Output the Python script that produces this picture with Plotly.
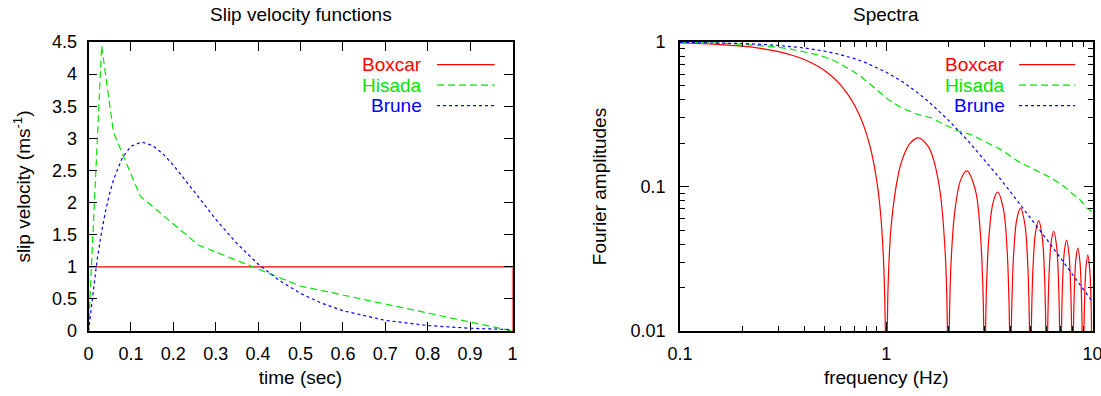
import plotly.graph_objects as go

# ---- slip velocity functions (time in s, velocity in m/s) ----
boxcar_t = [0.0, 0.0, 1.0, 1.0]
boxcar_v = [0.0, 1.0, 1.0, 0.0]

hisada_t = [0.0, 0.031, 0.059, 0.122, 0.259, 0.5, 1.0]
hisada_v = [0.0, 4.44, 3.09, 2.10, 1.34, 0.70, 0.0]

brune_t = [0.0, 0.01, 0.02, 0.03, 0.04, 0.05, 0.06, 0.08, 0.10, 0.125, 0.15, 0.175,
           0.2, 0.25, 0.3, 0.35, 0.4, 0.45, 0.5, 0.55, 0.6, 0.7, 0.8, 0.9, 1.0]
brune_v = [0.0, 0.591, 1.091, 1.510, 1.859, 2.145, 2.376, 2.700, 2.876, 2.943, 2.892, 2.762,
           2.584, 2.165, 1.741, 1.362, 1.043, 0.787, 0.586, 0.432, 0.316, 0.166, 0.085, 0.043, 0.021]

# ---- Fourier amplitude spectra (frequency in Hz) ----
# the spectral zeros are stored as 0.001, which lies below the plotted range
boxcar_f = [0.1, 0.15, 0.2, 0.25, 0.3, 0.35, 0.4, 0.45, 0.5, 0.55, 0.6, 0.65, 0.7, 0.75,
            0.8, 0.85, 0.9, 0.94, 0.97, 0.99, 1.0,
            1.02, 1.06, 1.15, 1.2, 1.3, 1.43, 1.6, 1.7, 1.8, 1.85, 1.94, 1.98, 2.0,
            2.02, 2.06, 2.15, 2.3, 2.46, 2.7, 2.85, 2.94, 2.98, 3.0,
            3.02, 3.06, 3.15, 3.3, 3.47, 3.7, 3.85, 3.94, 3.98, 4.0,
            4.02, 4.06, 4.15, 4.3, 4.48, 4.7, 4.85, 4.94, 4.98, 5.0,
            5.02, 5.06, 5.15, 5.3, 5.48, 5.7, 5.85, 5.94, 5.98, 6.0,
            6.02, 6.06, 6.15, 6.3, 6.48, 6.7, 6.85, 6.94, 6.98, 7.0,
            7.02, 7.06, 7.15, 7.3, 7.49, 7.7, 7.85, 7.94, 7.98, 8.0,
            8.02, 8.06, 8.15, 8.3, 8.49, 8.7, 8.85, 8.94, 8.98, 9.0,
            9.02, 9.06, 9.15, 9.3, 9.49, 9.7, 9.85, 9.94, 9.98, 10.0]
boxcar_a = [0.984, 0.963, 0.936, 0.900, 0.858, 0.810, 0.757, 0.699, 0.637, 0.572, 0.505, 0.436, 0.368, 0.300,
            0.234, 0.170, 0.109, 0.0635, 0.0309, 0.0101, 0.001,
            0.0196, 0.0563, 0.1257, 0.156, 0.1981, 0.2172, 0.189, 0.1515, 0.104, 0.0781, 0.0307, 0.0101, 0.001,
            0.0099, 0.0290, 0.0672, 0.1120, 0.1284, 0.0954, 0.0507, 0.0203, 0.0067, 0.001,
            0.0066, 0.0195, 0.0459, 0.0780, 0.0913, 0.0696, 0.0375, 0.0151, 0.0050, 0.001,
            0.0050, 0.0147, 0.0348, 0.0599, 0.0709, 0.0548, 0.0298, 0.0121, 0.0040, 0.001,
            0.0040, 0.0118, 0.0281, 0.0486, 0.0580, 0.0452, 0.0247, 0.0100, 0.0034, 0.001,
            0.0033, 0.0098, 0.0235, 0.0409, 0.0490, 0.0384, 0.0211, 0.0086, 0.0029, 0.001,
            0.0028, 0.0084, 0.0202, 0.0353, 0.0425, 0.0334, 0.0184, 0.0075, 0.0025, 0.001,
            0.0025, 0.0074, 0.0177, 0.0310, 0.0375, 0.0296, 0.0163, 0.0067, 0.0022, 0.001,
            0.0022, 0.0066, 0.0158, 0.0277, 0.0335, 0.0265, 0.0147, 0.0060, 0.0020, 0.001]

hisada_f = [0.1, 0.15, 0.2, 0.25, 0.3, 0.35, 0.4, 0.45, 0.5, 0.55, 0.6, 0.73, 0.876, 1.02,
            1.18, 1.42, 1.65, 1.91, 2.06, 2.22, 2.57, 2.99, 3.6, 4.33, 5.21, 6.28, 7.28,
            8.15, 8.77, 9.46, 10.0]
hisada_a = [0.995, 0.985, 0.965, 0.945, 0.92, 0.89, 0.857, 0.825, 0.79, 0.75, 0.705, 0.597, 0.482, 0.401,
            0.351, 0.315, 0.299, 0.269, 0.258, 0.242, 0.229, 0.206, 0.180, 0.150, 0.131, 0.115, 0.100,
            0.088, 0.080, 0.070, 0.067]

brune_f = [0.1, 0.15, 0.2, 0.25, 0.3, 0.4, 0.5, 0.6, 0.7, 0.8, 0.9, 1.0, 1.2, 1.4, 1.6, 1.8,
           2.0, 2.5, 3.0, 3.5, 4.0, 5.0, 6.0, 7.0, 8.0, 9.0, 10.0]
brune_a = [0.994, 0.986, 0.976, 0.963, 0.947, 0.910, 0.866, 0.818, 0.768, 0.717, 0.667, 0.618, 0.530,
           0.453, 0.388, 0.333, 0.288, 0.206, 0.153, 0.117, 0.092, 0.0609, 0.0431, 0.0320, 0.0247,
           0.0196, 0.0159]

names = ["Boxcar", "Hisada", "Brune"]
colors = ["#ff0000", "#00e600", "#0000ff"]
dashes = ["solid", "7px,4px", "3px,3px"]

FONT = "Liberation Sans, Arial, sans-serif"
W, H = 1101, 396
TICK_SIZE = 18
LABEL_SIZE = 19

fig = go.Figure()

left = [(boxcar_t, boxcar_v), (hisada_t, hisada_v), (brune_t, brune_v)]
right = [(boxcar_f, boxcar_a), (hisada_f, hisada_a), (brune_f, brune_a)]

for (x, y), c, d, n in zip(left, colors, dashes, names):
    fig.add_trace(go.Scatter(x=x, y=y, mode="lines", name=n, xaxis="x", yaxis="y",
                             line=dict(color=c, width=1.2, dash=d), showlegend=False))
for i, ((x, y), c, d, n) in enumerate(zip(right, colors, dashes, names)):
    fig.add_trace(go.Scatter(x=x, y=y, mode="lines", name=n, xaxis="x2", yaxis="y2",
                             line=dict(color=c, width=1.2, dash=d,
                                       shape="spline" if i == 0 else "linear",
                                       smoothing=1.0 if i == 0 else None),
                             showlegend=False))

# plot-area placement in pixels
L_X0, L_X1 = 88.5, 512.5
R_X0, R_X1 = 680.0, 1092.5
Y_TOP, Y_BOT = 42.0, 331.0

def xd(a, b):
    return [a / W, b / W]

ydom = [1 - Y_BOT / H, 1 - Y_TOP / H]

axis_common = dict(
    showline=True, linecolor="black", linewidth=1.8, mirror="allticks",
    ticks="inside", tickcolor="black", tickwidth=1.4, ticklen=9,
    showgrid=False, zeroline=False, automargin=False, ticklabeloverflow="allow",
    tickfont=dict(family=FONT, size=TICK_SIZE, color="black"),
)

minor_common = dict(ticks="inside", ticklen=5, tickcolor="black", tickwidth=1.4, showgrid=False)

fig.update_layout(
    width=W, height=H,
    margin=dict(l=0, r=0, t=0, b=0),
    paper_bgcolor="white", plot_bgcolor="white",
    font=dict(family=FONT, size=LABEL_SIZE, color="black"),
    xaxis=dict(domain=xd(L_X0, L_X1), anchor="y", range=[0, 1], dtick=0.1, tick0=0,
               title=dict(text="time (sec)", standoff=8, font=dict(size=LABEL_SIZE)),
               ticklabelstandoff=5, **axis_common),
    yaxis=dict(domain=ydom, anchor="x", range=[0, 4.5], dtick=0.5, tick0=0,
               title=dict(text="slip velocity (ms<sup>-1</sup>)", standoff=16, font=dict(size=LABEL_SIZE)),
               ticklabelstandoff=6, **axis_common),
    xaxis2=dict(domain=xd(R_X0, R_X1), anchor="y2", type="log", range=[-1, 1],
                tickvals=[0.1, 1, 10], ticktext=["0.1", "1", "10"],
                minor=dict(tickvals=[0.2, 0.3, 0.4, 0.5, 0.6, 0.7, 0.8, 0.9, 2, 3, 4, 5, 6, 7, 8, 9],
                           **minor_common),
                title=dict(text="frequency (Hz)", standoff=8, font=dict(size=LABEL_SIZE)),
                ticklabelstandoff=5, **axis_common),
    yaxis2=dict(domain=ydom, anchor="x2", type="log", range=[-2, 0],
                tickvals=[0.01, 0.1, 1], ticktext=["0.01", "0.1", "1"],
                minor=dict(tickvals=[0.02, 0.03, 0.04, 0.05, 0.06, 0.07, 0.08, 0.09,
                                     0.2, 0.3, 0.4, 0.5, 0.6, 0.7, 0.8, 0.9], **minor_common),
                title=dict(text="Fourier amplitudes", standoff=19, font=dict(size=LABEL_SIZE)),
                ticklabelstandoff=9, **axis_common),
)

# subplot titles
fig.add_annotation(text="Slip velocity functions", xref="x domain", yref="paper",
                   x=0.5, y=1 - 14 / H, showarrow=False, font=dict(size=LABEL_SIZE),
                   xanchor="center", yanchor="middle")
fig.add_annotation(text="Spectra", xref="x2 domain", yref="paper",
                   x=0.5, y=1 - 14 / H, showarrow=False, font=dict(size=LABEL_SIZE),
                   xanchor="center", yanchor="middle")

# key: label right-aligned, followed by a line sample
key_rows = [0.922, 0.851, 0.780]
for ax in ["x", "x2"]:
    yref = "y domain" if ax == "x" else "y2 domain"
    for n, c, d, ry in zip(names, colors, dashes, key_rows):
        fig.add_annotation(text=n, xref=f"{ax} domain", yref=yref, x=0.792, y=ry,
                           showarrow=False, xanchor="right", yanchor="middle",
                           font=dict(size=LABEL_SIZE, color=c))
        fig.add_shape(type="line", xref=f"{ax} domain", yref=yref,
                      x0=0.822, x1=0.958, y0=ry, y1=ry,
                      line=dict(color=c, width=1.2, dash=d))

fig.write_html("out.html")
